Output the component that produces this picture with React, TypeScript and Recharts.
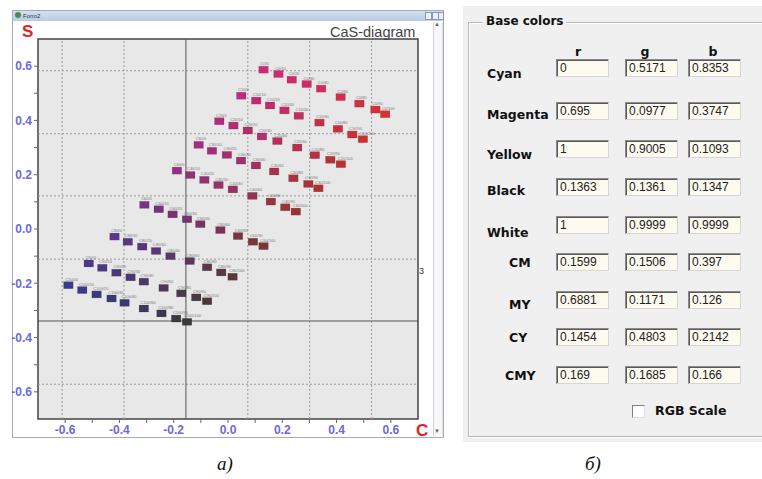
import React from "react";
import {
  ScatterChart, Scatter, XAxis, YAxis, CartesianGrid,
  ReferenceLine, ReferenceArea,
} from "recharts";

// cyan / yellow percent levels of the patches (magenta is 100 everywhere)
const C_LEVELS = [0, 10, 20, 30, 40, 60, 80, 90, 100];
const Y_LEVELS = [0, 10, 20, 30, 40, 60, 80, 90, 100];

// [C, S] coordinates of each patch, one array per cyan row
const rowC0 = [[0.130, 0.587], [0.185, 0.571], [0.234, 0.550], [0.289, 0.534], [0.342, 0.517], [0.414, 0.486], [0.483, 0.462], [0.542, 0.440], [0.578, 0.423]];
const rowC10 = [[0.048, 0.491], [0.103, 0.473], [0.154, 0.455], [0.207, 0.437], [0.260, 0.417], [0.336, 0.392], [0.404, 0.369], [0.457, 0.348], [0.496, 0.331]];
const rowC20 = [[-0.033, 0.397], [0.019, 0.381], [0.072, 0.363], [0.124, 0.341], [0.181, 0.324], [0.254, 0.300], [0.319, 0.272], [0.376, 0.255], [0.415, 0.239]];
const rowC30 = [[-0.109, 0.310], [-0.060, 0.288], [-0.005, 0.273], [0.047, 0.252], [0.102, 0.234], [0.169, 0.212], [0.240, 0.187], [0.295, 0.166], [0.332, 0.150]];
const rowC40 = [[-0.189, 0.215], [-0.140, 0.199], [-0.088, 0.181], [-0.036, 0.162], [0.017, 0.146], [0.089, 0.122], [0.157, 0.101], [0.210, 0.080], [0.249, 0.064]];
const rowC60 = [[-0.309, 0.089], [-0.256, 0.073], [-0.205, 0.054], [-0.152, 0.036], [-0.103, 0.018], [-0.029, -0.004], [0.036, -0.026], [0.091, -0.047], [0.130, -0.063]];
const rowC80 = [[-0.419, -0.028], [-0.370, -0.047], [-0.317, -0.065], [-0.266, -0.081], [-0.213, -0.100], [-0.142, -0.118], [-0.078, -0.141], [-0.026, -0.160], [0.016, -0.176]];
const rowC90 = [[-0.514, -0.127], [-0.464, -0.143], [-0.412, -0.161], [-0.360, -0.178], [-0.311, -0.194], [-0.238, -0.217], [-0.173, -0.237], [-0.118, -0.252], [-0.078, -0.266]];
const rowC100 = [[-0.589, -0.207], [-0.538, -0.225], [-0.485, -0.241], [-0.430, -0.256], [-0.382, -0.272], [-0.311, -0.293], [-0.246, -0.311], [-0.192, -0.330], [-0.152, -0.342]];

const ROWS = [rowC0, rowC10, rowC20, rowC30, rowC40, rowC60, rowC80, rowC90, rowC100];

const AXIS_TICKS = [-0.6, -0.5, -0.4, -0.3, -0.2, -0.1, 0, 0.1, 0.2, 0.3, 0.4, 0.5, 0.6];
const GRID_C = [-0.611, -0.383, 0.073, 0.301, 0.529];
const GRID_S = [0.583, 0.351, 0.122, -0.111, -0.572];
const BLACK_C = -0.155;
const BLACK_S = -0.339;

// right panel
const COLOR_NAMES = ["Cyan", "Magenta", "Yellow", "Black", "White", "CM", "MY", "CY", "CMY"];
const R_VALUES = ["0", "0.695", "1", "0.1363", "1", "0.1599", "0.6881", "0.1454", "0.169"];
const G_VALUES = ["0.5171", "0.0977", "0.9005", "0.1361", "0.9999", "0.1506", "0.1171", "0.4803", "0.1685"];
const B_VALUES = ["0.8353", "0.3747", "0.1093", "0.1347", "0.9999", "0.397", "0.126", "0.2142", "0.166"];

const ROW_BOX_Y = [68, 111, 149, 187, 225, 262, 300, 337, 375];
const ROW_LABEL_Y = [74, 115, 155, 191, 233, 263, 305, 338, 376];
const ROW_LABEL_X = [487, 487, 487, 487, 487, 509, 509, 509, 505];
const BOX_X = [556, 625, 688];

// corner colours as they look in the screenshot
const COL_M = [206, 40, 122];
const COL_MY = [218, 48, 46];
const COL_CM = [61, 58, 142];
const COL_CMY = [58, 58, 58];

function patchColor(c: number, y: number) {
  const mix = (i: number) =>
    COL_M[i] * (1 - c) * (1 - y) + COL_MY[i] * (1 - c) * y + COL_CM[i] * c * (1 - y) + COL_CMY[i] * c * y;
  return `rgb(${Math.round(mix(0))},${Math.round(mix(1))},${Math.round(mix(2))})`;
}

const rowData = ROWS.map((pts, ri) =>
  pts.map((p, ci) => ({
    x: p[0],
    y: p[1],
    label: `C${C_LEVELS[ri]}/${Y_LEVELS[ci]}`,
    color: patchColor(C_LEVELS[ri] / 100, Y_LEVELS[ci] / 100),
  }))
);

const Patch = (props: any) => {
  const { cx, cy, payload } = props;
  if (cx == null || cy == null) return null;
  return (
    <g>
      <text x={cx - 3} y={cy - 4.5} fontSize={4} fill="#777" fontFamily="Liberation Sans">
        {payload.label}
      </text>
      <rect x={cx - 4.5} y={cy - 3.5} width={9.5} height={7} fill={payload.color} stroke="rgba(0,0,0,0.2)" strokeWidth={0.5} />
    </g>
  );
};

const fmt = (v: number) => (Math.round(v * 10) % 2 === 0 ? v.toFixed(1) : "");
const tickStyle = { fill: "#6a6ae0", fontSize: 12, fontWeight: 700, fontFamily: "Liberation Sans" };

const abs = (l: number, t: number, extra: React.CSSProperties = {}): React.CSSProperties => ({
  position: "absolute", left: l, top: t, ...extra,
});

function InputBox({ x, cy, value }: { x: number; cy: number; value: string }) {
  return (
    <div style={abs(x, cy - 9, {
      width: 53, height: 18, boxSizing: "border-box", background: "#fdfbf0",
      borderTop: "1px solid #8a8a8a", borderLeft: "1px solid #8a8a8a",
      borderRight: "1px solid #d6d6d6", borderBottom: "1px solid #d6d6d6",
      boxShadow: "inset 1px 1px 0 #5a5a5a",
      fontFamily: "Liberation Sans", fontSize: 12, lineHeight: "16px", paddingLeft: 3, color: "#222",
    })}>{value}</div>
  );
}

export default function App() {
  return (
    <div style={{ position: "absolute", left: 0, top: 0, width: 762, height: 479, background: "#fff", overflow: "hidden" }}>
      {/* left window */}
      <div style={abs(12, 10, { width: 432, height: 428, border: "1px solid #a3adba", boxSizing: "border-box", background: "#fff" })} />
      <div style={abs(13, 11, { width: 430, height: 10, background: "linear-gradient(#d3def0, #b9cbe4)" })} />
      <div style={abs(15, 12, { width: 6, height: 6, borderRadius: 3, background: "#4f8a4f" })} />
      <div style={abs(23, 11, { fontSize: 6, lineHeight: "10px", fontFamily: "Liberation Sans", color: "#333" })}>Form2</div>
      <div style={abs(425, 12, { width: 5, height: 6, border: "1px solid #8899aa", background: "#eef" })} />
      <div style={abs(432, 12, { width: 5, height: 6, border: "1px solid #8899aa", background: "#eef" })} />
      <div style={abs(438, 12, { width: 4, height: 6, border: "1px solid #8899aa", background: "#eef" })} />
      <div style={abs(433, 22, { width: 8, height: 414, borderLeft: "1px solid #d4d4d4", borderRight: "1px solid #e4e4e4", background: "#f7f7f7" })} />
      <div style={abs(434, 21, { fontSize: 6, color: "#666" })}>▲</div>
      <div style={abs(434, 428, { fontSize: 6, color: "#666" })}>▼</div>

      <div style={abs(0, 0)}>
        <ScatterChart width={440} height={445} margin={{ top: 39, right: 22, bottom: 6, left: 0 }}>
          <CartesianGrid horizontal={false} vertical={false} fill="#e8e8e8" />
          <XAxis
            type="number" dataKey="x" domain={[-0.7, 0.7]} ticks={AXIS_TICKS} interval={0}
            tickFormatter={fmt} tick={tickStyle} tickSize={4} tickMargin={2}
            tickLine={{ stroke: "#666" }} axisLine={false} height={20} allowDataOverflow
          />
          <YAxis
            type="number" dataKey="y" domain={[-0.7, 0.7]} ticks={AXIS_TICKS} interval={0}
            tickFormatter={fmt} tick={tickStyle} tickSize={4} tickMargin={2}
            tickLine={{ stroke: "#666" }} axisLine={false} width={38} allowDataOverflow
          />
          {GRID_C.map((v) => (
            <ReferenceLine key={`gc${v}`} x={v} stroke="#9a9a9a" strokeDasharray="2 2" />
          ))}
          {GRID_S.map((v) => (
            <ReferenceLine key={`gs${v}`} y={v} stroke="#9a9a9a" strokeDasharray="2 2" />
          ))}
          <ReferenceLine x={BLACK_C} stroke="#555" />
          <ReferenceLine y={BLACK_S} stroke="#555" />
          <ReferenceArea x1={-0.7} x2={0.7} y1={-0.7} y2={0.7} fill="none" fillOpacity={0} stroke="#444" strokeWidth={1.5} />
          {rowData.map((d, i) => (
            <Scatter key={i} data={d} shape={<Patch />} isAnimationActive={false} />
          ))}
        </ScatterChart>
      </div>

      <div style={abs(22, 22, { fontFamily: "Liberation Sans", fontWeight: 700, fontSize: 17, color: "#e02424" })}>S</div>
      <div style={abs(330, 24, { fontFamily: "Liberation Sans", fontSize: 14.5, color: "#444" })}>CaS-diagram</div>
      <div style={abs(416, 421, { fontFamily: "Liberation Sans", fontWeight: 700, fontSize: 17, color: "#e02424" })}>C</div>
      <div style={abs(419, 266, { fontFamily: "Liberation Sans", fontSize: 9, color: "#333" })}>3</div>

      {/* right panel */}
      <div style={abs(463, 6, { width: 299, height: 436, background: "#f0f0f0" })} />
      <div style={abs(468, 22, { width: 300, height: 415, border: "1px solid #b8b8b8", boxShadow: "1px 1px 0 #fff, inset 1px 1px 0 #fff", boxSizing: "border-box" })} />
      <div style={abs(483, 14, { background: "#f0f0f0", padding: "0 3px", fontFamily: "DejaVu Sans", fontWeight: 700, fontSize: 12, color: "#111" })}>Base colors</div>
      {["r", "g", "b"].map((h, i) => (
        <div key={h} style={abs([578, 645, 713][i] - 10, 44, { width: 20, textAlign: "center", fontFamily: "DejaVu Sans", fontWeight: 700, fontSize: 12.5, color: "#111" })}>{h}</div>
      ))}
      {COLOR_NAMES.map((name, i) => (
        <React.Fragment key={name}>
          <div style={abs(ROW_LABEL_X[i], ROW_LABEL_Y[i] - 8, { fontFamily: "DejaVu Sans", fontWeight: 700, fontSize: 12.5, lineHeight: "16px", color: "#111" })}>{name}</div>
          <InputBox x={BOX_X[0]} cy={ROW_BOX_Y[i]} value={R_VALUES[i]} />
          <InputBox x={BOX_X[1]} cy={ROW_BOX_Y[i]} value={G_VALUES[i]} />
          <InputBox x={BOX_X[2]} cy={ROW_BOX_Y[i]} value={B_VALUES[i]} />
        </React.Fragment>
      ))}
      <div style={abs(632, 405, { width: 13, height: 13, boxSizing: "border-box", background: "#fff", borderTop: "1px solid #808080", borderLeft: "1px solid #808080", borderRight: "1px solid #e0e0e0", borderBottom: "1px solid #e0e0e0" })} />
      <div style={abs(655, 403, { fontFamily: "DejaVu Sans", fontWeight: 700, fontSize: 12.5, lineHeight: "16px", color: "#111" })}>RGB Scale</div>

      <div style={abs(217, 453, { fontFamily: "Liberation Serif", fontStyle: "italic", fontSize: 19, color: "#111" })}>а)</div>
      <div style={abs(585, 453, { fontFamily: "Liberation Serif", fontStyle: "italic", fontSize: 19, color: "#111" })}>б)</div>
    </div>
  );
}
